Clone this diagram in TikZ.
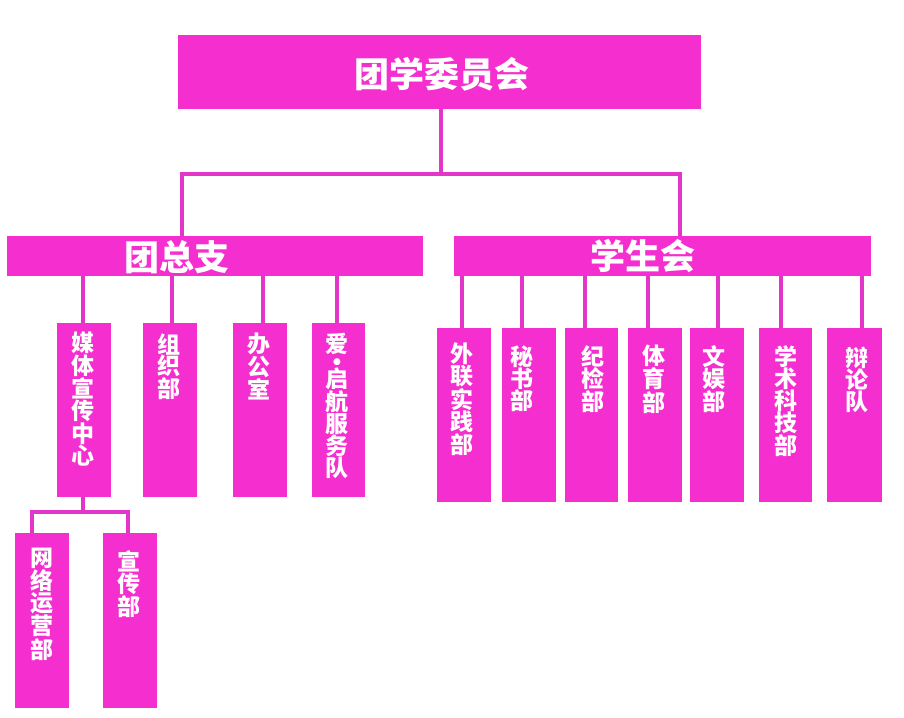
\documentclass[tikz,border=0pt]{standalone}
\usepackage{fontspec}
\newfontfamily\cjk{Noto Sans CJK SC}
\newfontfamily\dotfont{DejaVu Sans}
\definecolor{boxmag}{RGB}{244,46,207}
\definecolor{linemag}{RGB}{226,54,200}
\tikzset{
  orgbox/.style={fill=boxmag, draw=none, inner sep=0pt, outer sep=0pt, anchor=north west},
  conn/.style={draw=linemag, line width=3.6pt, line join=miter},
  bigtext/.style={text=white, inner sep=0pt, font=\cjk\bfseries\fontsize{35}{40}\selectfont},
  vtext/.style={text=white, inner sep=0pt, anchor=north, align=center, font=\cjk\bfseries\fontsize{23}{22}\selectfont},
  vtextl/.style={vtext, font=\cjk\bfseries\fontsize{23}{21.5}\selectfont}
}
\begin{document}
\begin{tikzpicture}[x=1pt,y=-1pt]
\useasboundingbox (0,0) rectangle (904,717);
\fill[white] (0,0) rectangle (904,717);
% boxes
\node[orgbox, minimum width=523pt, minimum height=74pt] (top) at (178,35) {};
\node[orgbox, minimum width=416pt, minimum height=40pt] (zt) at (7,236) {};
\node[orgbox, minimum width=417pt, minimum height=40pt] (xs) at (454,236) {};
\node[orgbox, minimum width=54pt, minimum height=174pt] (m1) at (57,323) {};
\node[orgbox, minimum width=54pt, minimum height=174pt] (m2) at (143,323) {};
\node[orgbox, minimum width=54pt, minimum height=174pt] (m3) at (233,323) {};
\node[orgbox, minimum width=53pt, minimum height=174pt] (m4) at (312,323) {};
\node[orgbox, minimum width=54pt, minimum height=175pt] (s1) at (15,533) {};
\node[orgbox, minimum width=54pt, minimum height=175pt] (s2) at (103,533) {};
\node[orgbox, minimum width=54pt, minimum height=174pt] (r1) at (437,328) {};
\node[orgbox, minimum width=54pt, minimum height=174pt] (r2) at (502,328) {};
\node[orgbox, minimum width=53pt, minimum height=174pt] (r3) at (565,328) {};
\node[orgbox, minimum width=54pt, minimum height=174pt] (r4) at (628,328) {};
\node[orgbox, minimum width=54pt, minimum height=174pt] (r5) at (690,328) {};
\node[orgbox, minimum width=53pt, minimum height=174pt] (r6) at (759,328) {};
\node[orgbox, minimum width=55pt, minimum height=174pt] (r7) at (827,328) {};
% junction coordinates
\coordinate (j0) at (441,174);
\coordinate (hl) at (182,174);
\coordinate (hr) at (680,174);
\coordinate (sj) at (83,512);
\coordinate (sl) at (32,512);
\coordinate (sr) at (128,512);
% connectors
\draw[conn] (j0 |- top.south) -- (j0);
\draw[conn] (hl |- zt.north) -- (hl) -- (hr) -- (hr |- xs.north);
\foreach \b/\x in {m1/83, m2/172, m3/263, m4/337}{
  \draw[conn] (\x,0 |- zt.south) -- (\x,0 |- \b.north);
}
\foreach \b/\x in {r1/462, r2/522, r3/585, r4/648, r5/718, r6/781, r7/862}{
  \draw[conn] (\x,0 |- xs.south) -- (\x,0 |- \b.north);
}
\draw[conn] (sj |- m1.south) -- (sj);
\draw[conn] (sl |- s1.north) -- (sl) -- (sr) -- (sr |- s2.north);
% texts
\node[bigtext] (ttop) at (442,74) {团学委员会};
\node[bigtext] (tzt) at (177,257) {团总支};
\node[bigtext] (txs) at (643,256) {学生会};
\node[vtextl] (tm1) at (83,332) {媒\\体\\宣\\传\\中\\心};
\node[vtextl] (tm2) at (169,333) {组\\织\\部};
\node[vtextl] (tm3) at (259,333) {办\\公\\室};
\node[vtext] (tm4) at (337,333) {爱\\[-10pt]{\dotfont\fontsize{9}{9}\selectfont ●}\\[1pt]启\\航\\服\\务\\队};
\node[vtext] (ts1) at (42,548) {网\\络\\运\\营\\部};
\node[vtext] (ts2) at (129,550) {宣\\传\\部};
\node[vtext] (tr1) at (462,343) {外\\联\\实\\践\\部};
\node[vtext] (tr2) at (522,345) {秘\\书\\部};
\node[vtext] (tr3) at (593,345) {纪\\检\\部};
\node[vtext] (tr4) at (654,345) {体\\育\\部};
\node[vtext] (tr5) at (714,345) {文\\娱\\部};
\node[vtext] (tr6) at (786,345) {学\\术\\科\\技\\部};
\node[vtext] (tr7) at (857,347) {辩\\论\\队};
\end{tikzpicture}
\end{document}
